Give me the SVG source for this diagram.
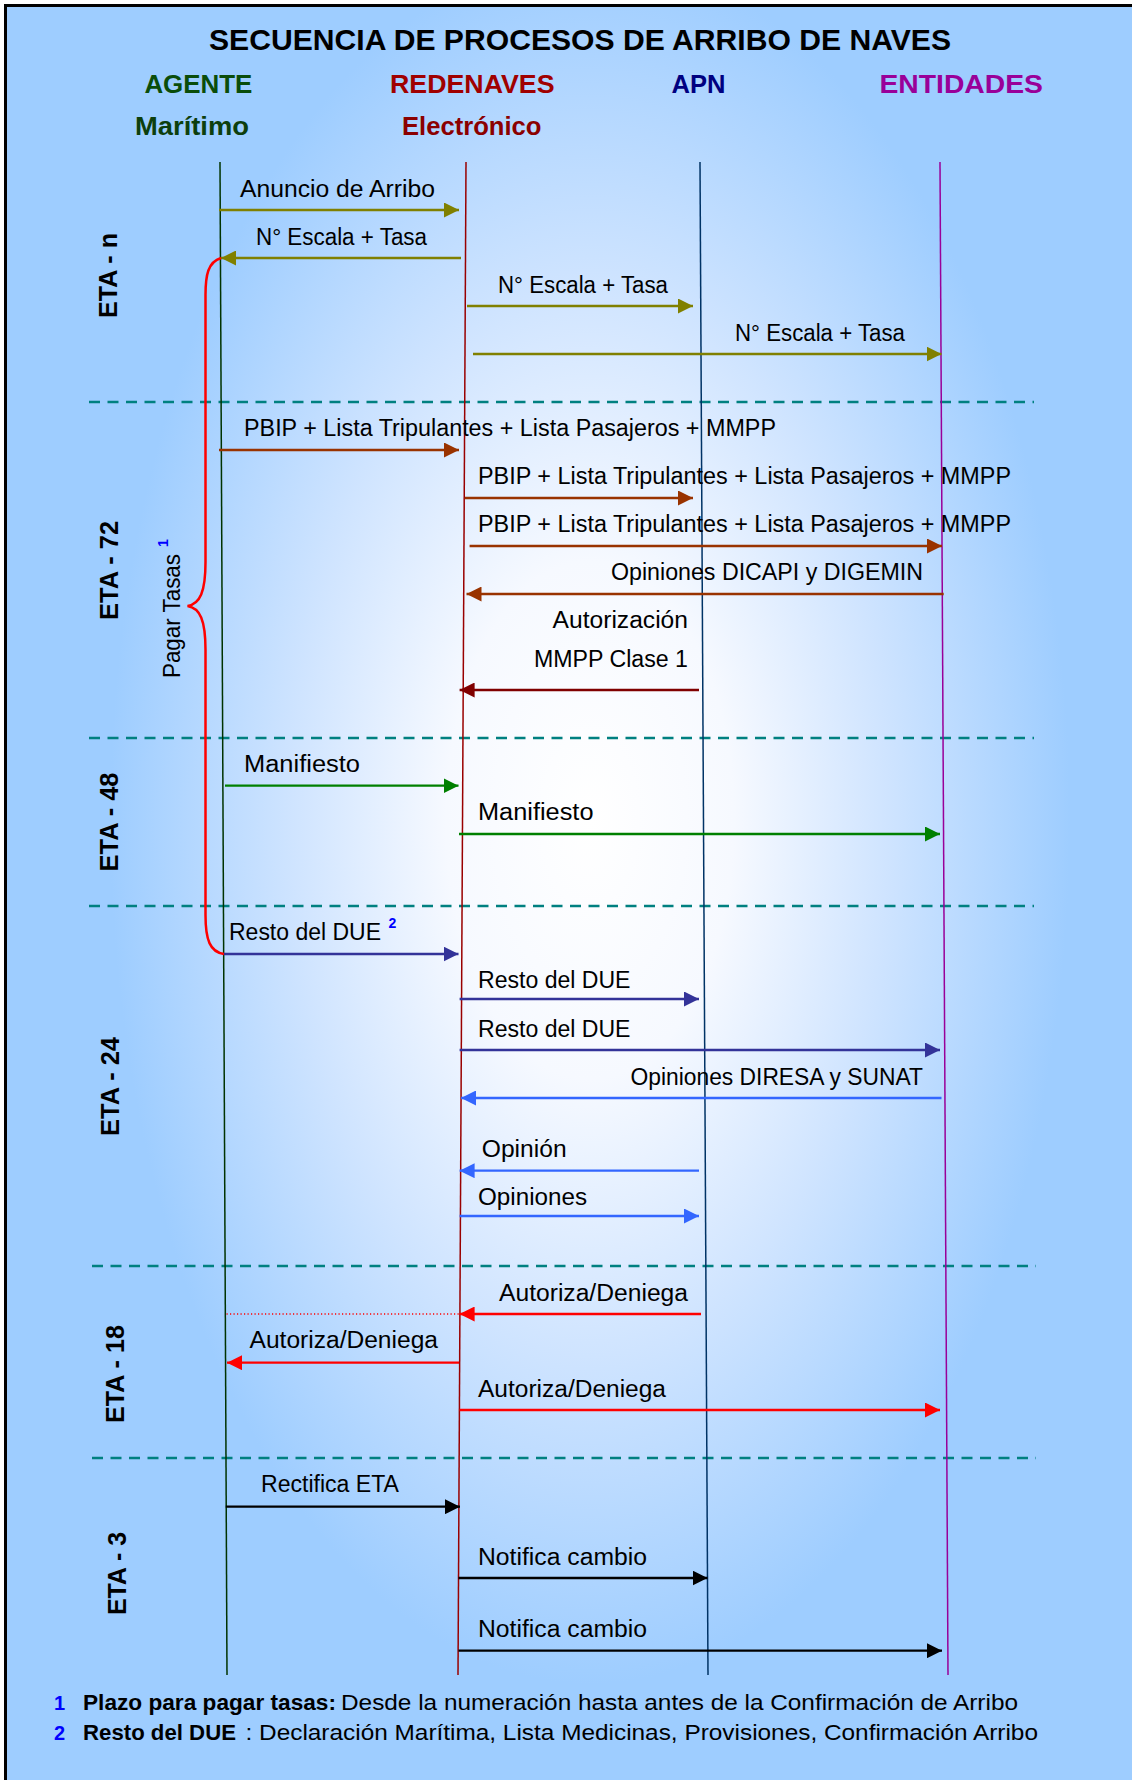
<svg xmlns="http://www.w3.org/2000/svg" width="1132" height="1780" viewBox="0 0 1132 1780">
<style>
.lbl{font-family:"Liberation Sans",Arial,sans-serif;font-size:23px;fill:#000}
.eta{font-family:"Liberation Sans",Arial,sans-serif;font-size:26px;font-weight:bold;fill:#000}
.hdr{font-family:"Liberation Sans",Arial,sans-serif;font-size:26.5px;font-weight:bold}
.ttl{font-family:"Liberation Sans",Arial,sans-serif;font-size:30px;font-weight:bold;fill:#000}
.foot{font-family:"Liberation Sans",Arial,sans-serif;font-size:22px;fill:#000}
.sup{font-family:"Liberation Sans",Arial,sans-serif;font-weight:bold;fill:#0000FF}
.life{stroke-width:1.5;fill:none}
.sep{stroke:#008080;stroke-width:2.6;stroke-dasharray:11 7.5;fill:none}
.arr{stroke-width:2.3;fill:none}
</style>
<defs>
<radialGradient id="bg" gradientUnits="userSpaceOnUse" cx="590" cy="820" r="480" gradientTransform="translate(590 820) scale(1 1.8) translate(-590 -820)">
<stop offset="0" stop-color="#ffffff"/>
<stop offset="0.3" stop-color="#f6f9ff"/>
<stop offset="0.62" stop-color="#cfe4ff"/>
<stop offset="1" stop-color="#9ecdff"/>
</radialGradient>
<marker id="mOl" viewBox="0 0 15 15" refX="15" refY="7.5" markerWidth="15" markerHeight="15" markerUnits="userSpaceOnUse" orient="auto"><path d="M0,0 L15,7.5 L0,15 z" fill="#808000"/></marker>
<marker id="mBr" viewBox="0 0 15 15" refX="15" refY="7.5" markerWidth="15" markerHeight="15" markerUnits="userSpaceOnUse" orient="auto"><path d="M0,0 L15,7.5 L0,15 z" fill="#993300"/></marker>
<marker id="mDr" viewBox="0 0 15 15" refX="15" refY="7.5" markerWidth="15" markerHeight="15" markerUnits="userSpaceOnUse" orient="auto"><path d="M0,0 L15,7.5 L0,15 z" fill="#800000"/></marker>
<marker id="mGr" viewBox="0 0 15 15" refX="15" refY="7.5" markerWidth="15" markerHeight="15" markerUnits="userSpaceOnUse" orient="auto"><path d="M0,0 L15,7.5 L0,15 z" fill="#008000"/></marker>
<marker id="mIn" viewBox="0 0 15 15" refX="15" refY="7.5" markerWidth="15" markerHeight="15" markerUnits="userSpaceOnUse" orient="auto"><path d="M0,0 L15,7.5 L0,15 z" fill="#333399"/></marker>
<marker id="mBl" viewBox="0 0 15 15" refX="15" refY="7.5" markerWidth="15" markerHeight="15" markerUnits="userSpaceOnUse" orient="auto"><path d="M0,0 L15,7.5 L0,15 z" fill="#3366FF"/></marker>
<marker id="mRd" viewBox="0 0 15 15" refX="15" refY="7.5" markerWidth="15" markerHeight="15" markerUnits="userSpaceOnUse" orient="auto"><path d="M0,0 L15,7.5 L0,15 z" fill="#FF0000"/></marker>
<marker id="mBk" viewBox="0 0 15 15" refX="15" refY="7.5" markerWidth="15" markerHeight="15" markerUnits="userSpaceOnUse" orient="auto"><path d="M0,0 L15,7.5 L0,15 z" fill="#000000"/></marker>
</defs>
<rect width="1132" height="1780" fill="#ffffff"/>
<rect x="5.5" y="5.5" width="1140" height="1790" fill="url(#bg)" stroke="#000" stroke-width="3"/>

<text class="ttl" x="580" y="50" text-anchor="middle" textLength="742" lengthAdjust="spacingAndGlyphs">SECUENCIA DE PROCESOS DE ARRIBO DE NAVES</text>

<g id="sections">
<path class="sep" d="M89,402 H1034"/>
<path class="sep" d="M89,738 H1034"/>
<path class="sep" d="M89,906 H1034"/>
<path class="sep" d="M92,1266 H1036"/>
<path class="sep" d="M92,1458 H1036"/>
<text class="eta" transform="translate(117 275.5) rotate(-90)" text-anchor="middle" textLength="85" lengthAdjust="spacingAndGlyphs">ETA - n</text>
<text class="eta" transform="translate(118 570.4) rotate(-90)" text-anchor="middle" textLength="99" lengthAdjust="spacingAndGlyphs">ETA - 72</text>
<text class="eta" transform="translate(118 822) rotate(-90)" text-anchor="middle" textLength="99" lengthAdjust="spacingAndGlyphs">ETA - 48</text>
<text class="eta" transform="translate(118.6 1086.5) rotate(-90)" text-anchor="middle" textLength="99" lengthAdjust="spacingAndGlyphs">ETA - 24</text>
<text class="eta" transform="translate(124 1374) rotate(-90)" text-anchor="middle" textLength="98" lengthAdjust="spacingAndGlyphs">ETA - 18</text>
<text class="eta" transform="translate(125.5 1573.5) rotate(-90)" text-anchor="middle" textLength="83" lengthAdjust="spacingAndGlyphs">ETA - 3</text>
</g>

<g id="agente">
<text class="hdr" x="144.4" y="93" fill="#0a4d0a" textLength="108" lengthAdjust="spacingAndGlyphs">AGENTE</text>
<text class="hdr" x="135" y="134.5" fill="#0d3f0d" textLength="114" lengthAdjust="spacingAndGlyphs">Marítimo</text>
<path class="life" stroke="#003300" d="M220,162 L227,1675"/>
</g>
<g id="redenaves">
<text class="hdr" x="390" y="93" fill="#a00000" textLength="164.5" lengthAdjust="spacingAndGlyphs">REDENAVES</text>
<text class="hdr" x="402" y="134.5" fill="#8b0000" textLength="139.5" lengthAdjust="spacingAndGlyphs">Electrónico</text>
<path class="life" stroke="#990000" d="M466,162 L458,1675"/>
</g>
<g id="apn">
<text class="hdr" x="671.5" y="93" fill="#000080" textLength="54" lengthAdjust="spacingAndGlyphs">APN</text>
<path class="life" stroke="#003366" d="M700,162 L708,1675"/>
</g>
<g id="entidades">
<text class="hdr" x="879.4" y="93" fill="#990099" textLength="163.6" lengthAdjust="spacingAndGlyphs">ENTIDADES</text>
<path class="life" stroke="#990099" d="M940,162 L948,1675"/>
</g>

<g id="pagar-tasas">
<path d="M221,258 C208,262 205.5,275 205.5,295 L205.5,562 C205.5,592 200,604 187.5,606 C200,608 205.5,620 205.5,650 L205.5,915 C205.5,940 210,952 224,954" fill="none" stroke="#FF0000" stroke-width="2.5"/>
<text class="lbl" transform="translate(180 678) rotate(-90)" textLength="124" lengthAdjust="spacingAndGlyphs">Pagar Tasas</text>
<text class="sup" font-size="14" transform="translate(167.6 547) rotate(-90)">1</text>
</g>

<g id="connectors">
<path class="arr" stroke="#808000" marker-end="url(#mOl)" d="M219,210 H459"/>
<path class="arr" stroke="#808000" marker-end="url(#mOl)" d="M461,258 H221"/>
<path class="arr" stroke="#808000" marker-end="url(#mOl)" d="M467,306 H693"/>
<path class="arr" stroke="#808000" marker-end="url(#mOl)" d="M473,354 H941.5"/>
<path class="arr" stroke="#993300" marker-end="url(#mBr)" d="M219,450 H459"/>
<path class="arr" stroke="#993300" marker-end="url(#mBr)" d="M465,498 H693"/>
<path class="arr" stroke="#993300" marker-end="url(#mBr)" d="M469.6,546 H942"/>
<path class="arr" stroke="#993300" marker-end="url(#mBr)" d="M943.7,594 H466.5"/>
<path class="arr" stroke="#800000" marker-end="url(#mDr)" d="M699,690 H459.6"/>
<path class="arr" stroke="#008000" marker-end="url(#mGr)" d="M225,785.7 H458.5"/>
<path class="arr" stroke="#008000" marker-end="url(#mGr)" d="M459,834 H940"/>
<path class="arr" stroke="#333399" marker-end="url(#mIn)" d="M224,954 H458.5"/>
<path class="arr" stroke="#333399" marker-end="url(#mIn)" d="M459.6,999 H699"/>
<path class="arr" stroke="#333399" marker-end="url(#mIn)" d="M459.6,1050 H940"/>
<path class="arr" stroke="#3366FF" marker-end="url(#mBl)" d="M941.5,1098 H461"/>
<path class="arr" stroke="#3366FF" marker-end="url(#mBl)" d="M699,1170.7 H459.6"/>
<path class="arr" stroke="#3366FF" marker-end="url(#mBl)" d="M459.6,1216 H699"/>
<path d="M226.5,1314 H459" fill="none" stroke="#FF0000" stroke-width="1.5" stroke-dasharray="1.2 2.3"/>
<path class="arr" stroke="#FF0000" marker-end="url(#mRd)" d="M701,1314 H459.6"/>
<path class="arr" stroke="#FF0000" marker-end="url(#mRd)" d="M459,1362.7 H227"/>
<path class="arr" stroke="#FF0000" marker-end="url(#mRd)" d="M459.6,1410 H940"/>
<path class="arr" stroke="#000000" marker-end="url(#mBk)" d="M225.8,1506.7 H460"/>
<path class="arr" stroke="#000000" marker-end="url(#mBk)" d="M458.5,1578 H707.5"/>
<path class="arr" stroke="#000000" marker-end="url(#mBk)" d="M458.5,1650.7 H942"/>

<text class="lbl" x="240" y="196.5" textLength="195" lengthAdjust="spacingAndGlyphs">Anuncio de Arribo</text>
<text class="lbl" x="256" y="245" textLength="171" lengthAdjust="spacingAndGlyphs">N° Escala + Tasa</text>
<text class="lbl" x="498" y="293" textLength="170" lengthAdjust="spacingAndGlyphs">N° Escala + Tasa</text>
<text class="lbl" x="735" y="341" textLength="170" lengthAdjust="spacingAndGlyphs">N° Escala + Tasa</text>
<text class="lbl" x="244" y="436" textLength="532" lengthAdjust="spacingAndGlyphs">PBIP + Lista Tripulantes + Lista Pasajeros + MMPP</text>
<text class="lbl" x="478" y="484" textLength="533" lengthAdjust="spacingAndGlyphs">PBIP + Lista Tripulantes + Lista Pasajeros + MMPP</text>
<text class="lbl" x="478" y="532" textLength="533" lengthAdjust="spacingAndGlyphs">PBIP + Lista Tripulantes + Lista Pasajeros + MMPP</text>
<text class="lbl" x="611" y="580" textLength="312" lengthAdjust="spacingAndGlyphs">Opiniones DICAPI y DIGEMIN</text>
<text class="lbl" x="552.6" y="628" textLength="135.4" lengthAdjust="spacingAndGlyphs">Autorización</text>
<text class="lbl" x="534" y="667" textLength="154" lengthAdjust="spacingAndGlyphs">MMPP Clase 1</text>
<text class="lbl" x="244" y="772" textLength="116" lengthAdjust="spacingAndGlyphs">Manifiesto</text>
<text class="lbl" x="478" y="820" textLength="115.5" lengthAdjust="spacingAndGlyphs">Manifiesto</text>
<text class="lbl" x="229" y="940" textLength="152" lengthAdjust="spacingAndGlyphs">Resto del DUE</text>
<text class="sup" font-size="14" x="388.4" y="928">2</text>
<text class="lbl" x="478" y="988" textLength="152.5" lengthAdjust="spacingAndGlyphs">Resto del DUE</text>
<text class="lbl" x="478" y="1037" textLength="152.5" lengthAdjust="spacingAndGlyphs">Resto del DUE</text>
<text class="lbl" x="630.5" y="1085" textLength="292.5" lengthAdjust="spacingAndGlyphs">Opiniones DIRESA y SUNAT</text>
<text class="lbl" x="481.8" y="1156.7" textLength="84.8" lengthAdjust="spacingAndGlyphs">Opinión</text>
<text class="lbl" x="478" y="1205" textLength="109" lengthAdjust="spacingAndGlyphs">Opiniones</text>
<text class="lbl" x="499" y="1300.5" textLength="189" lengthAdjust="spacingAndGlyphs">Autoriza/Deniega</text>
<text class="lbl" x="249.5" y="1348" textLength="188.5" lengthAdjust="spacingAndGlyphs">Autoriza/Deniega</text>
<text class="lbl" x="478" y="1396.7" textLength="188" lengthAdjust="spacingAndGlyphs">Autoriza/Deniega</text>
<text class="lbl" x="261" y="1492" textLength="138" lengthAdjust="spacingAndGlyphs">Rectifica ETA</text>
<text class="lbl" x="478" y="1565" textLength="169" lengthAdjust="spacingAndGlyphs">Notifica cambio</text>
<text class="lbl" x="478" y="1637" textLength="169" lengthAdjust="spacingAndGlyphs">Notifica cambio</text>
</g>

<g id="notas">
<text class="sup" font-size="20" x="54" y="1710">1</text>
<text class="foot" x="83" y="1710" font-weight="bold" textLength="253" lengthAdjust="spacingAndGlyphs">Plazo para pagar tasas:</text>
<text class="foot" x="341" y="1710" textLength="677" lengthAdjust="spacingAndGlyphs">Desde la numeración hasta antes de la Confirmación de Arribo</text>
<text class="sup" font-size="20" x="54" y="1740">2</text>
<text class="foot" x="83" y="1740" font-weight="bold" textLength="153" lengthAdjust="spacingAndGlyphs">Resto del DUE</text>
<text class="foot" x="245.5" y="1740" textLength="792.5" lengthAdjust="spacingAndGlyphs">: Declaración Marítima, Lista Medicinas, Provisiones, Confirmación Arribo</text>
</g>
</svg>
